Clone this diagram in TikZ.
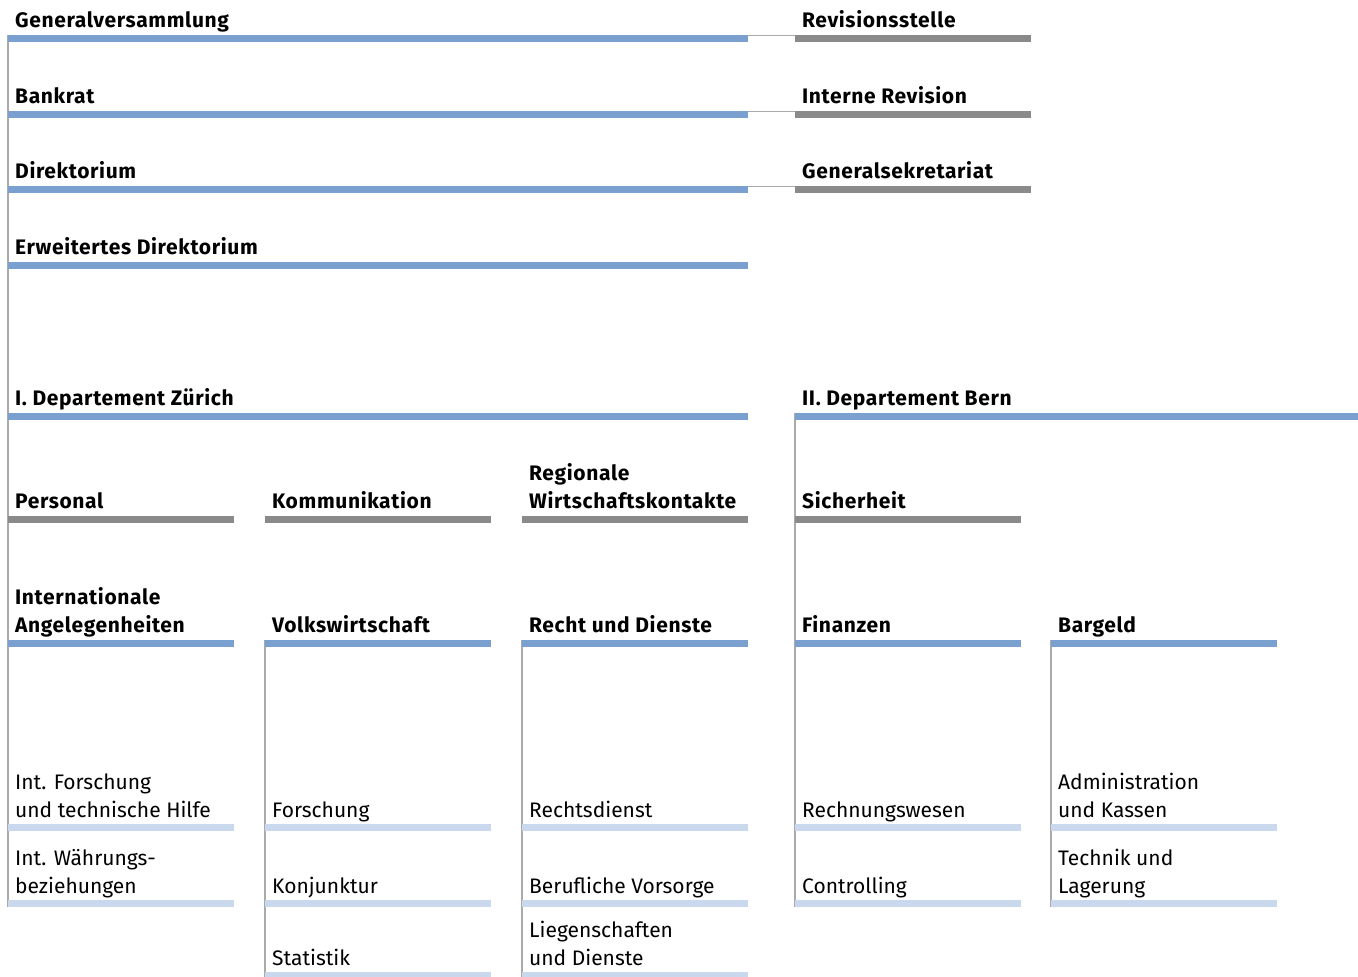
\documentclass[tikz,border=0pt]{standalone}
\usepackage{fontspec}
\setmainfont{Fira Sans}[BoldFeatures={LetterSpace=3}]
\usetikzlibrary{backgrounds}
\definecolor{barblue}{RGB}{122,160,208}
\definecolor{bargray}{RGB}{138,138,138}
\definecolor{barlight}{RGB}{201,216,236}
\definecolor{linegray}{RGB}{170,170,170}
\newcommand\ml[1]{\begin{tabular}[b]{@{}l@{}}#1\end{tabular}}
\begin{document}
\begin{tikzpicture}[x=1pt,y=-1pt,
  bar/.style={rectangle,anchor=north west,inner sep=0pt,minimum height=6.5pt,draw=none},
  bbar/.style={bar,fill=barblue},
  gbar/.style={bar,fill=bargray},
  lbar/.style={bar,fill=barlight},
  hd/.style={anchor=base west,inner sep=0pt,xshift=7pt,yshift=7.5pt,font=\bfseries\fontsize{21}{28}\selectfont},
  sub/.style={anchor=base west,inner sep=0pt,xshift=7pt,yshift=7pt,font=\fontsize{21}{28}\selectfont},
  vline/.style={draw=linegray,line width=1.3pt},
  hline/.style={draw=linegray,line width=0.9pt}]
\useasboundingbox (0,0) rectangle (1358,977);
% top block
\node[bbar,minimum width=740pt] (gv) at (8,35) {};
\node[bbar,minimum width=740pt] (br) at (8,111) {};
\node[bbar,minimum width=740pt] (dir) at (8,186) {};
\node[bbar,minimum width=740pt] (edir) at (8,262) {};
\node[gbar,minimum width=236pt] (rs) at (795,35) {};
\node[gbar,minimum width=236pt] (ir) at (795,111) {};
\node[gbar,minimum width=236pt] (gs) at (795,186) {};
\node[hd] (gvt) at (gv.north west) {Generalversammlung};
\node[hd] (brt) at (br.north west) {Bankrat};
\node[hd] (dirt) at (dir.north west) {Direktorium};
\node[hd] (edirt) at (edir.north west) {Erweitertes Direktorium};
\node[hd] (rst) at (rs.north west) {Revisionsstelle};
\node[hd] (irt) at (ir.north west) {Interne Revision};
\node[hd] (gst) at (gs.north west) {Generalsekretariat};
% departments
\node[bbar,minimum width=740pt] (d1) at (8,413) {};
\node[bbar,minimum width=563pt] (d2) at (795,413) {};
\node[hd] (d1t) at (d1.north west) {I. Departement Zürich};
\node[hd] (d2t) at (d2.north west) {II. Departement Bern};
% gray row
\node[gbar,minimum width=226pt] (pe) at (8,516) {};
\node[gbar,minimum width=226pt] (ko) at (265,516) {};
\node[gbar,minimum width=226pt] (rw) at (522,516) {};
\node[gbar,minimum width=226pt] (si) at (795,516) {};
\node[hd] (pet) at (pe.north west) {Personal};
\node[hd] (kot) at (ko.north west) {Kommunikation};
\node[hd] (rwt) at (rw.north west) {\ml{Regionale\\Wirtschaftskontakte}};
\node[hd] (sit) at (si.north west) {Sicherheit};
% blue row
\node[bbar,minimum width=226pt] (ia) at (8,640) {};
\node[bbar,minimum width=226pt] (vw) at (265,640) {};
\node[bbar,minimum width=226pt] (rd) at (522,640) {};
\node[bbar,minimum width=226pt] (fi) at (795,640) {};
\node[bbar,minimum width=226pt] (bg) at (1051,640) {};
\node[hd] (iat) at (ia.north west) {\ml{Internationale\\Angelegenheiten}};
\node[hd] (vwt) at (vw.north west) {Volkswirtschaft};
\node[hd] (rdt) at (rd.north west) {Recht und Dienste};
\node[hd] (fit) at (fi.north west) {Finanzen};
\node[hd] (bgt) at (bg.north west) {Bargeld};
% light row 1
\node[lbar,minimum width=226pt] (a1) at (8,824) {};
\node[lbar,minimum width=226pt] (b1) at (265,824) {};
\node[lbar,minimum width=226pt] (c1) at (522,824) {};
\node[lbar,minimum width=226pt] (e1) at (795,824) {};
\node[lbar,minimum width=226pt] (f1) at (1051,824) {};
\node[sub] (a1t) at (a1.north west) {\ml{Int. Forschung\\und technische Hilfe}};
\node[sub] (b1t) at (b1.north west) {Forschung};
\node[sub] (c1t) at (c1.north west) {Rechtsdienst};
\node[sub] (e1t) at (e1.north west) {Rechnungswesen};
\node[sub] (f1t) at (f1.north west) {\ml{Administration\\und Kassen}};
% light row 2
\node[lbar,minimum width=226pt] (a2) at (8,900) {};
\node[lbar,minimum width=226pt] (b2) at (265,900) {};
\node[lbar,minimum width=226pt] (c2) at (522,900) {};
\node[lbar,minimum width=226pt] (e2) at (795,900) {};
\node[lbar,minimum width=226pt] (f2) at (1051,900) {};
\node[sub] (a2t) at (a2.north west) {\ml{Int. Währungs-\\beziehungen}};
\node[sub] (b2t) at (b2.north west) {Konjunktur};
\node[sub] (c2t) at (c2.north west) {Berufliche Vorsorge};
\node[sub] (e2t) at (e2.north west) {Controlling};
\node[sub] (f2t) at (f2.north west) {\ml{Technik und\\Lagerung}};
% light row 3
\node[lbar,minimum width=226pt] (b3) at (265,972) {};
\node[lbar,minimum width=226pt] (c3) at (522,972) {};
\node[sub] (b3t) at (b3.north west) {Statistik};
\node[sub] (c3t) at (c3.north west) {\ml{Liegenschaften\\und Dienste}};
% connectors
\begin{pgfonlayer}{background}
\draw[vline] (gv.north west) -- (a2.south west);
\draw[vline] (d2.north west) -- (e2.south west);
\draw[vline] (vw.north west) -- (b3.south west);
\draw[vline] (rd.north west) -- (c3.south west);
\draw[vline] (bg.north west) -- (f2.south west);
\draw[hline] (gv.north east) -- (rs.north west);
\draw[hline] (br.north east) -- (ir.north west);
\draw[hline] (dir.north east) -- (gs.north west);
\end{pgfonlayer}
\end{tikzpicture}
\end{document}
